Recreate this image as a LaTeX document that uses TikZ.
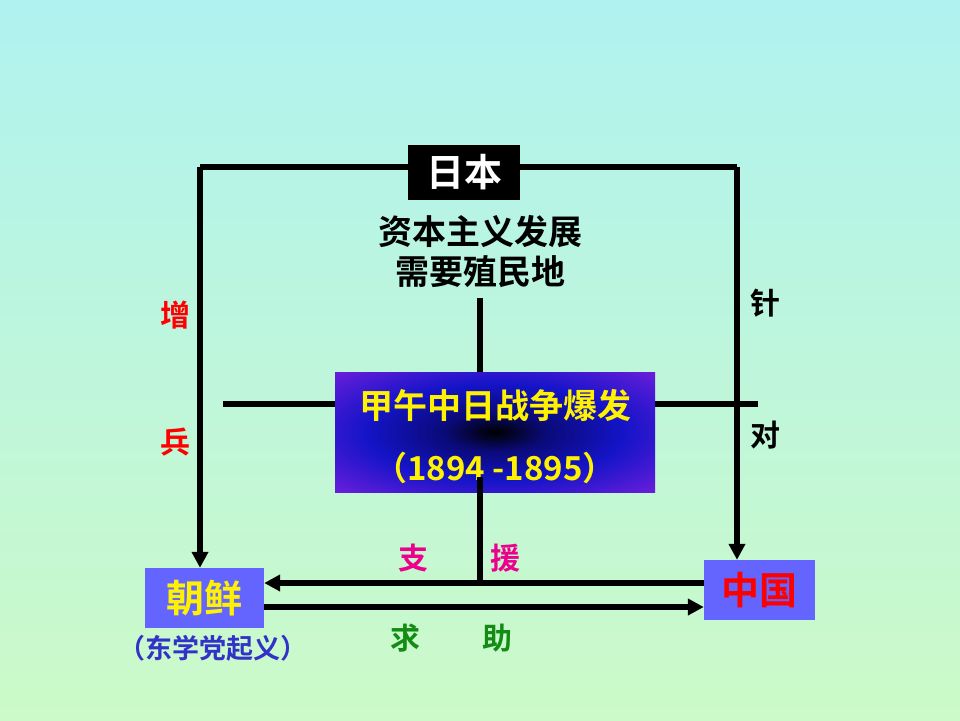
\documentclass[tikz,border=0pt]{standalone}
\usepackage{fontspec}
\setmainfont{Noto Sans CJK SC}[BoldFont={* Bold}]
\usetikzlibrary{arrows.meta}
\pgfdeclareradialshading{warsh}{\pgfpoint{0bp}{0bp}}{color(0bp)=(black); color(8bp)=(rgb,255:red,10;green,10;blue,120); color(20bp)=(rgb,255:red,20;green,20;blue,200); color(36bp)=(rgb,255:red,110;green,30;blue,220); color(50bp)=(rgb,255:red,150;green,50;blue,200)}
\begin{document}
\begin{tikzpicture}[x=1pt,y=-1pt,
  ln/.style={line width=5.5pt},
  arr/.style={line width=5.5pt,-{Triangle[length=16pt,width=16pt]}},
  lab/.style={font=\bfseries\fontsize{30}{32}\selectfont},
  big/.style={font=\bfseries\fontsize{38}{40}\selectfont}]
\shade[top color={rgb,255:red,176;green,242;blue,240},bottom color={rgb,255:red,204;green,250;blue,200}] (0,0) rectangle (960,720);
\useasboundingbox (0,0) rectangle (960,720);
\node[fill=black,minimum width=112pt,minimum height=55pt,text=white,big] (jp) at (464,172) {日本};
\node[align=center,font=\bfseries\fontsize{34}{40}\selectfont] (cause) at (480,252) {资本主义发展\\需要殖民地};
\coordinate (tl) at (200,167); \coordinate (tr) at (737,167);
\node[minimum width=119pt,minimum height=60pt,fill={rgb,255:red,100;green,100;blue,255},text=yellow,big] (cx) at (204.5,598) {朝鲜};
\node[minimum width=111pt,minimum height=60pt,fill={rgb,255:red,100;green,100;blue,255},text=red,big] (cn) at (759.5,590) {中国};
\draw[ln] (jp.west|-tl) -- (tl);
\draw[arr] (tl) -- (tl|-cx.north);
\draw[ln] (jp.east|-tr) -- (tr);
\draw[arr] (tr) -- (tr|-cn.north);
\draw[ln] (480,298) -- (480,372);
\draw[ln] (223,404) -- (335,404);
\draw[ln] (655,404) -- (758,404);
\shade[shading=warsh] (335,372) rectangle (655,492);
\node[minimum width=320pt,minimum height=120pt] (war) at (495,432) {};
\node[text=yellow,font=\bfseries\fontsize{34}{36}\selectfont] at (495,405) {甲午中日战争爆发};
\node[text=yellow,font=\bfseries\fontsize{33}{36}\selectfont] at (495,468) {（1894 -1895）};
\coordinate (j) at (480,583);
\draw[ln] (480,477) -- (j);
\draw[arr] (cn.west|-j) -- (cx.east|-j);
\draw[arr] (cx.east|-0,607) -- (cn.west|-0,607);
\node[text={rgb,255:red,50;green,50;blue,200},font=\bfseries\fontsize{27}{28}\selectfont] (dx) at (213,648) {（东学党起义）};
\node[lab,text=red] at (175,315) {增};
\node[lab,text=red] at (175,442) {兵};
\node[lab] at (765,303) {针};
\node[lab] at (765,435) {对};
\node[lab,text=magenta] at (413,558) {支};
\node[lab,text=magenta] at (505,558) {援};
\node[lab,text={rgb,255:red,20;green,140;blue,20}] at (405,638) {求};
\node[lab,text={rgb,255:red,20;green,140;blue,20}] at (497,638) {助};
\end{tikzpicture}
\end{document}
